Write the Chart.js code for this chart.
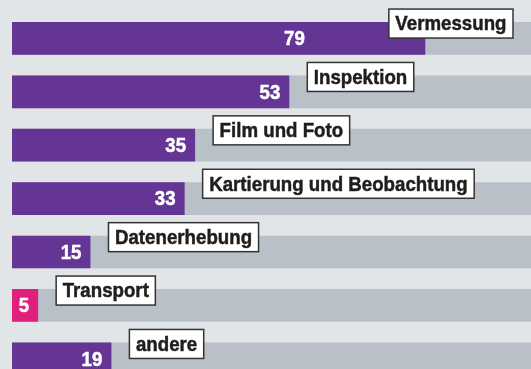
<!DOCTYPE html>
<html>
<head>
<meta charset="utf-8">
<script src="https://cdn.jsdelivr.net/npm/chart.js@4"></script>
<style>
  html, body { margin: 0; padding: 0; background: #e1e5e8; overflow: hidden; }
  #wrap { position: relative; width: 531px; height: 386px; }
</style>
</head>
<body>
<div id="wrap"><canvas id="chart"></canvas></div>
<script>
// Einsatzbereiche, Anteil in Prozent
const categories = ["Vermessung", "Inspektion", "Film und Foto", "Kartierung und Beobachtung", "Datenerhebung", "Transport", "andere"];
const values = [79, 53, 35, 33, 15, 5, 19];
const barColors = ["#643595", "#643595", "#643595", "#643595", "#643595", "#e01f7d", "#643595"];
const trackValue = 100;

const FONT = 'bold 21px "Liberation Sans", Arial, sans-serif';
const SQUEEZE = 0.89; // condensed look

// draw text squeezed horizontally, anchored at x
function narrowText(ctx, text, x, y, align) {
  const w = ctx.measureText(text).width * SQUEEZE;
  const left = align === "right" ? x - w : x;
  ctx.save();
  ctx.translate(left, y);
  ctx.scale(SQUEEZE, 1);
  ctx.textAlign = "left";
  ctx.lineWidth = 0.5;
  ctx.strokeStyle = ctx.fillStyle;
  ctx.fillText(text, 0, 0);
  ctx.strokeText(text, 0, 0);
  ctx.restore();
  return w;
}

// label boxes sit on the upper edge of each bar, values inside the bar
const labelPlugin = {
  id: "barLabels",
  afterDatasetsDraw(chart) {
    const ctx = chart.ctx;
    const meta = chart.getDatasetMeta(0);
    const right = chart.width - 18;
    ctx.save();
    ctx.font = FONT;
    ctx.textBaseline = "middle";
    meta.data.forEach((bar, i) => {
      const top = bar.y - bar.height / 2;
      const tw = ctx.measureText(categories[i]).width * SQUEEZE;
      const bw = tw + 13, bh = 29;
      let bx = bar.x + 18;
      let shifted = false;
      if (bx + bw > right) { bx = right - bw; shifted = true; }
      const by = top - 13;
      ctx.fillStyle = "#ffffff";
      ctx.fillRect(bx, by, bw, bh);
      ctx.strokeStyle = "#333333";
      ctx.lineWidth = 1.5;
      ctx.strokeRect(bx, by, bw, bh);
      ctx.fillStyle = "#1e1e1e";
      narrowText(ctx, categories[i], bx + 6.5, by + bh / 2 + 1, "left");

      // value
      ctx.fillStyle = "#ffffff";
      const vx = shifted ? bx - 84 : bar.x - 9;
      narrowText(ctx, String(values[i]), vx, bar.y + 1, "right");
    });
    ctx.restore();
  }
};

new Chart(document.getElementById("chart"), {
  type: "bar",
  data: {
    labels: categories,
    datasets: [
      {
        data: values,
        backgroundColor: barColors,
        borderWidth: 0,
        categoryPercentage: 0.612,
        barPercentage: 1,
        order: 0
      },
      {
        data: categories.map(() => trackValue),
        backgroundColor: "#b9c0c7",
        borderWidth: 0,
        categoryPercentage: 0.612,
        barPercentage: 1,
        order: 1
      }
    ]
  },
  options: {
    indexAxis: "y",
    responsive: true,
    maintainAspectRatio: false,
    animation: false,
    layout: { padding: { left: 12, right: 0, top: 11.7, bottom: 0.5 } },
    plugins: { legend: { display: false }, tooltip: { enabled: false } },
    scales: {
      x: { display: false, min: 0, max: 99.2, stacked: false },
      y: { display: false, stacked: true }
    }
  },
  plugins: [labelPlugin]
});
</script>
</body>
</html>
